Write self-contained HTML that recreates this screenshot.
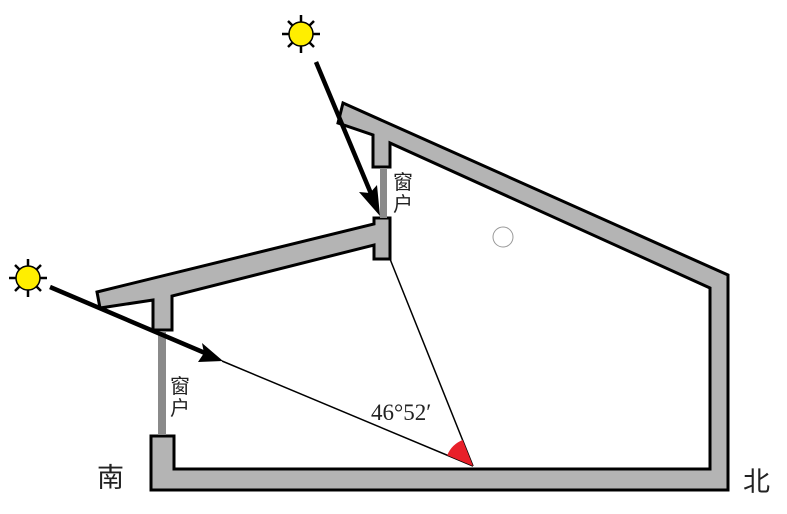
<!DOCTYPE html>
<html><head><meta charset="utf-8"><style>body{margin:0;background:#fff}svg{display:block}</style></head><body>
<svg width="787" height="514" viewBox="0 0 787 514" xmlns="http://www.w3.org/2000/svg">
<g fill="#b4b4b4" stroke="#000" stroke-width="3" stroke-linejoin="miter">
<path d="M151,436 L174,436 L174,469 L710,469 L710,288 L390,143 L390,167 L373,167 L373,135 L338,123 L343,103 L728,275 L728,490 L151,490 Z"/>
<path d="M97,292 L374,224 L374,218 L390,218 L390,259 L374,259 L374,245 L172,296 L172,330 L153,330 L153,300 L100,308 Z"/>
</g>
<rect x="380" y="168" width="7" height="50" fill="#8a8a8a"/>
<rect x="158" y="331" width="8" height="104" fill="#8a8a8a"/>
<line x1="222" y1="361" x2="473" y2="466" stroke="#000" stroke-width="1.5"/>
<line x1="390" y1="259" x2="473" y2="466" stroke="#000" stroke-width="1.5"/>
<path d="M473,466 L447.2,455.2 A28,28 0 0 1 462.6,440 Z" fill="#e8202a"/>
<line x1="316" y1="62" x2="372" y2="196" stroke="#000" stroke-width="4.5"/>
<path d="M380,216 L359,192 L370,193 L377,185 Z" fill="#000"/>
<line x1="50" y1="287" x2="205" y2="353" stroke="#000" stroke-width="4.5"/>
<path d="M223,361 L198,362 L204,353 L202,343 Z" fill="#000"/>
<g stroke="#000" stroke-width="2.5">
<g transform="translate(301,34)">
<line x1="-19" y1="0" x2="19" y2="0"/><line x1="0" y1="-19" x2="0" y2="19"/>
<line x1="-13" y1="-13" x2="13" y2="13"/><line x1="-13" y1="13" x2="13" y2="-13"/>
<circle r="12" fill="#ffee00" stroke-width="1.5"/></g>
<g transform="translate(28,278)">
<line x1="-19" y1="0" x2="19" y2="0"/><line x1="0" y1="-19" x2="0" y2="19"/>
<line x1="-13" y1="-13" x2="13" y2="13"/><line x1="-13" y1="13" x2="13" y2="-13"/>
<circle r="12" fill="#ffee00" stroke-width="1.5"/></g>
</g>
<circle cx="503" cy="237" r="10" fill="none" stroke="#999" stroke-width="1"/>
<g font-family="Liberation Sans, Noto Sans CJK SC, sans-serif" fill="#222">
<text x="393" y="189" font-size="20">窗</text>
<text x="393" y="211" font-size="20">户</text>
<text x="170" y="393" font-size="20">窗</text>
<text x="170" y="415" font-size="20">户</text>
<text x="97" y="487" font-size="27">南</text>
<text x="743" y="491" font-size="27">北</text>
</g>
<text x="371" y="420" font-family="Liberation Serif, serif" font-size="23" fill="#222">46°52′</text>
</svg>
</body></html>
